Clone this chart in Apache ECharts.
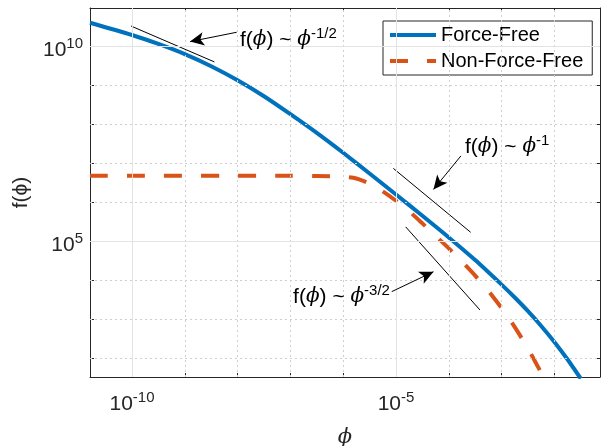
<!DOCTYPE html>
<html>
<head>
<meta charset="utf-8">
<script src="https://cdn.jsdelivr.net/npm/echarts@6/dist/echarts.min.js"></script>
<style>
html,body{margin:0;padding:0;background:#fff;}
#chart{width:601px;height:446px;}
</style>
</head>
<body>
<div id="chart"></div>
<script>
// All values are log10 exponents (log-log plot)
const phiExpForceFree = [-10.795, -10.0, -9.5, -9.0, -8.5, -8.0, -7.5, -7.0, -6.5, -6.0, -5.5, -5.0, -4.5, -4.0, -3.5, -3.0, -2.75, -2.5, -2.25, -2.0, -1.75, -1.5];
const fExpForceFree   = [10.615, 10.30, 10.07, 9.81, 9.50, 9.14, 8.73, 8.27, 7.79, 7.28, 6.75, 6.21, 5.665, 5.11, 4.53, 3.90, 3.57, 3.22, 2.84, 2.43, 1.98, 1.49];

const phiExpNonForceFree = [-10.795, -7.0, -6.5, -6.0, -5.75, -5.5, -5.25, -5.0, -4.75, -4.5, -4.25, -4.0, -3.75, -3.5, -3.25, -3.0, -2.75, -2.5, -2.21];
const fExpNonForceFree   = [6.69, 6.69, 6.685, 6.665, 6.62, 6.49, 6.29, 6.05, 5.78, 5.47, 5.15, 4.83, 4.49, 4.13, 3.74, 3.30, 2.81, 2.26, 1.54];

const xRange = [-10.795, -1.136];
const yRange = [1.531, 10.992];
const xDecades = [-10, -9, -8, -7, -6, -5, -4, -3, -2];
const yDecades = [2, 3, 4, 5, 6, 7, 8, 9, 10];
const xLabelExps = [-10, -5];
const yLabelExps = [5, 10];

// slope guide lines [x0, y0, x1, y1]
const guideHalf = [-10.019, 10.53, -8.44, 9.61];
const guideOne = [-5.05, 6.88, -3.585, 5.24];
const guideThreeHalf = [-4.816, 5.38, -3.41, 3.25];
// arrows [tailX, tailY, tipX, tipY]
const arrowHalf = [-8.017, 10.37, -8.90, 10.13];
const arrowOne = [-3.77, 7.20, -4.29, 6.34];
const arrowThreeHalf = [-5.08, 3.72, -4.29, 4.23];
// annotation texts: [x, y, exponent]
const textHalf = [-7.955, 10.17, '-1/2'];
const textOne = [-3.693, 7.43, '-1'];
const textThreeHalf = [-5.114, 3.58, '-3/2'];

const AX = '#262626';
const sansFont = '"Liberation Sans", Arial, Helvetica, sans-serif';
const phiFont = '"DejaVu Serif", serif';

function zip(a, b) { return a.map((v, i) => [v, b[i]]); }

const supRich = {
  b: {fontSize: 21, fontFamily: sansFont, color: AX, lineHeight: 28},
  s: {fontSize: 15, fontFamily: sansFont, color: AX, verticalAlign: 'top', lineHeight: 16}
};
const annRich = {
  t: {fontSize: 21, fontFamily: sansFont, color: '#000', lineHeight: 28},
  p: {fontSize: 20, fontFamily: phiFont, fontStyle: 'italic', color: '#000', lineHeight: 28},
  s: {fontSize: 15, fontFamily: sansFont, color: '#000', verticalAlign: 'top', lineHeight: 16}
};
function annText(exp) { return '{t|f(}{p|ϕ}{t|) ~ }{p|ϕ}{s|' + exp + '}'; }

function guideSeries(g, a, t, pos) {
  return {
    type: 'line', xAxisIndex: 0, yAxisIndex: 0, z: 4,
    data: [[g[0], g[1]], [g[2], g[3]]],
    symbol: 'none', silent: true, animation: false,
    lineStyle: {color: '#000', width: 1},
    markLine: {
      silent: true, animation: false,
      symbol: ['none', 'arrow'], symbolSize: [10, 14],
      lineStyle: {color: '#000', width: 1, type: 'solid'},
      label: {show: false},
      data: [[{coord: [a[0], a[1]]}, {coord: [a[2], a[3]]}]]
    },
    markPoint: {
      silent: true, animation: false,
      symbol: 'circle', symbolSize: 0,
      label: {show: true, position: pos, distance: 0, fontSize: 21, formatter: annText(t[2]), rich: annRich},
      data: [{coord: [t[0], t[1]]}]
    }
  };
}

const gridLineData = []
  .concat(xDecades.filter(v => xLabelExps.indexOf(v) < 0).map(v => ({xAxis: v, lineStyle: {color: '#cfcfcf', type: [2, 3], width: 1}})))
  .concat(yDecades.filter(v => yLabelExps.indexOf(v) < 0).map(v => ({yAxis: v, lineStyle: {color: '#cfcfcf', type: [2, 3], width: 1}})))
  .concat(xLabelExps.map(v => ({xAxis: v, lineStyle: {color: '#e3e3e3', type: 'solid', width: 1}})))
  .concat(yLabelExps.map(v => ({yAxis: v, lineStyle: {color: '#e3e3e3', type: 'solid', width: 1}})));

const chart = echarts.init(document.getElementById('chart'), null, {renderer: 'canvas'});
const option = {
  animation: false,
  backgroundColor: '#fff',
  grid: {left: 90, top: 8, right: 1, bottom: 69, containLabel: false, outerBoundsMode: 'none'},
  legend: {
    data: ['Force-Free', 'Non-Force-Free'],
    orient: 'vertical', left: 383, top: 21,
    itemWidth: 46, itemHeight: 14, itemGap: 4,
    padding: [3, 9, 3, 5],
    borderColor: AX, borderWidth: 1, backgroundColor: '#fff',
    itemStyle: {opacity: 0},
    lineStyle: {width: 4},
    textStyle: {fontSize: 20, lineHeight: 22, fontFamily: sansFont, color: '#000'},
    selectedMode: false
  },
  xAxis: [{
    type: 'value', min: xRange[0], max: xRange[1], position: 'bottom',
    name: 'ϕ', nameLocation: 'middle', nameGap: 50,
    nameTextStyle: {fontSize: 21, fontFamily: phiFont, fontStyle: 'italic', color: AX},
    axisLine: {show: true, onZero: false, lineStyle: {color: AX, width: 1}},
    axisTick: {show: true, inside: true, length: 4, customValues: xDecades, lineStyle: {color: AX}},
    axisLabel: {show: true, margin: 13, fontSize: 21, customValues: xLabelExps, formatter: v => '{b|10}{s|' + v + '}', rich: supRich},
    splitLine: {show: false}
  }, {
    type: 'value', min: xRange[0], max: xRange[1], position: 'top',
    axisLine: {show: true, onZero: false, lineStyle: {color: AX, width: 1}},
    axisTick: {show: true, inside: true, length: 4, customValues: xDecades, lineStyle: {color: AX}},
    axisLabel: {show: false},
    splitLine: {show: false}
  }],
  yAxis: [{
    type: 'value', min: yRange[0], max: yRange[1], position: 'left',
    name: 'f(ϕ)', nameLocation: 'middle', nameGap: 57, nameRotate: 90,
    nameTextStyle: {fontSize: 21, fontFamily: sansFont, color: AX},
    axisLine: {show: true, onZero: false, lineStyle: {color: AX, width: 1}},
    axisTick: {show: true, inside: true, length: 4, customValues: yDecades, lineStyle: {color: AX}},
    axisLabel: {show: true, margin: 7, fontSize: 21, padding: [8, 0, 0, 0], customValues: yLabelExps, formatter: v => '{b|10}{s|' + v + '}', rich: supRich},
    splitLine: {show: false}
  }, {
    type: 'value', min: yRange[0], max: yRange[1], position: 'right',
    axisLine: {show: true, onZero: false, lineStyle: {color: AX, width: 1}},
    axisTick: {show: true, inside: true, length: 4, customValues: yDecades, lineStyle: {color: AX}},
    axisLabel: {show: false},
    splitLine: {show: false}
  }],
  series: [
    {
      name: 'gridlines', type: 'line', data: [], z: 1, silent: true,
      markLine: {silent: true, animation: false, symbol: ['none', 'none'], label: {show: false}, data: gridLineData}
    },
    {
      name: 'Force-Free', type: 'line', z: 3,
      data: zip(phiExpForceFree, fExpForceFree),
      symbol: 'none', smooth: 0.25, clip: true,
      lineStyle: {color: '#0072BD', width: 4},
      itemStyle: {color: '#0072BD'}
    },
    {
      name: 'Non-Force-Free', type: 'line', z: 3,
      data: zip(phiExpNonForceFree, fExpNonForceFree),
      symbol: 'none', smooth: 0.25, clip: true,
      lineStyle: {color: '#D95319', width: 4, type: [18, 19]},
      itemStyle: {color: '#D95319'}
    },
    guideSeries(guideHalf, arrowHalf, textHalf, 'right'),
    guideSeries(guideOne, arrowOne, textOne, 'right'),
    guideSeries(guideThreeHalf, arrowThreeHalf, textThreeHalf, 'left')
  ]
};
chart.setOption(option);
</script>
</body>
</html>
